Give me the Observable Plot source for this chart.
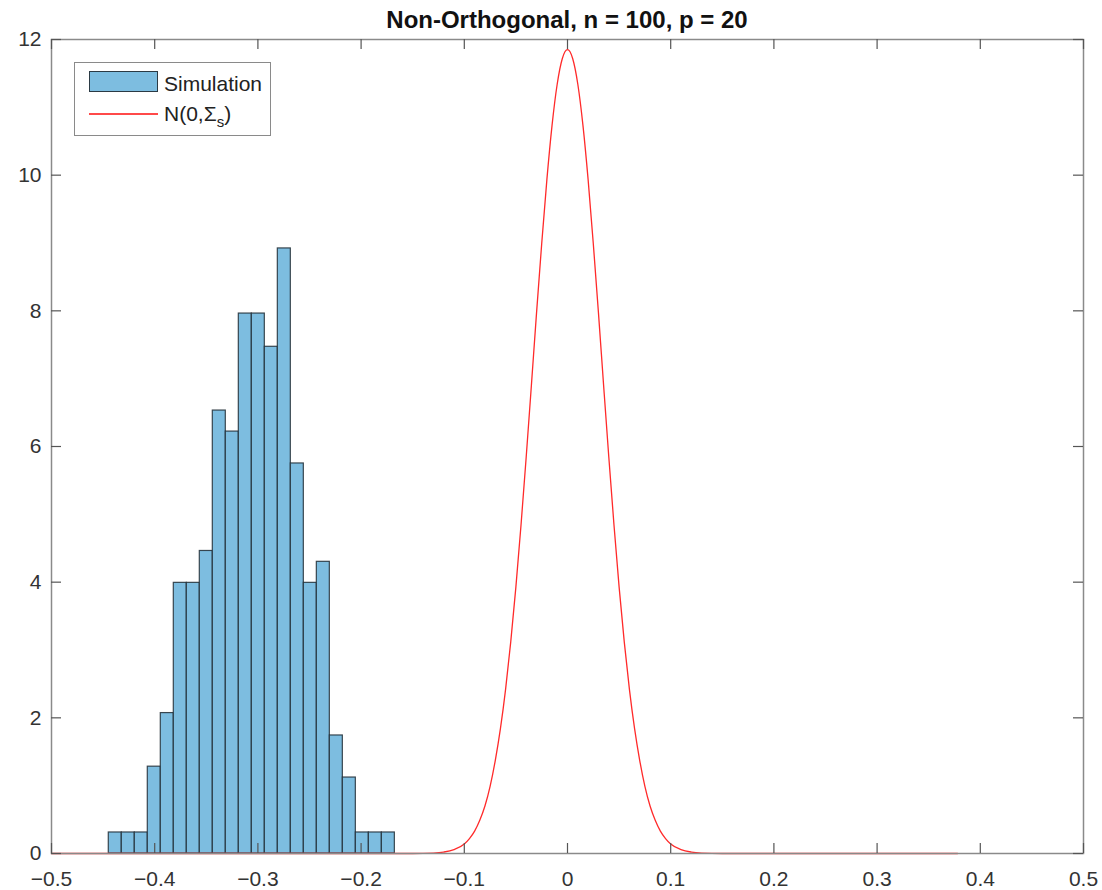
<!DOCTYPE html>
<html>
<head>
<meta charset="utf-8">
<script src="https://cdn.jsdelivr.net/npm/d3@7"></script>
<script src="https://cdn.jsdelivr.net/npm/@observablehq/plot@0.6"></script>
<style>
  body { margin: 0; background: #fff; }
  #wrap { position: relative; width: 1102px; height: 890px; background: #fff; font-family: "Liberation Sans", Arial, Helvetica, sans-serif; }
  #title { position: absolute; left: 51px; width: 1032px; top: 8px; text-align: center; font-weight: bold; font-size: 24px; line-height: 24px; color: #111; }
  #legend { position: absolute; left: 74px; top: 62px; width: 197px; height: 74px; box-sizing: border-box; border: 1.5px solid #8a8a8a; background: #fff; }
  .lg-text { position: absolute; left: 89px; font-size: 21px; line-height: 21px; color: #222; white-space: nowrap; }
  .patch { position: absolute; left: 14px; top: 8px; width: 69px; height: 21px; box-sizing: border-box; background: #7dbde0; border: 1.5px solid #2b3a44; }
  .redline { position: absolute; left: 14px; top: 50px; width: 69px; height: 1.5px; background: #ff4a4a; }
  sub { font-size: 15px; vertical-align: -6px; line-height: 0; }
</style>
</head>
<body>
<div id="wrap">
  <div id="chart"></div>
  <div id="title">Non-Orthogonal, n = 100, p = 20</div>
  <div id="legend">
    <div class="patch"></div>
    <div class="lg-text" style="top:10px;">Simulation</div>
    <div class="redline"></div>
    <div class="lg-text" style="top:40px;">N(0,Σ<sub>s</sub>)</div>
  </div>
</div>
<script>
// Histogram bin edges
const binEdges = [-0.4445, -0.4319, -0.4193, -0.4067, -0.3941, -0.3815, -0.3689, -0.3563,
  -0.3437, -0.3311, -0.3185, -0.3059, -0.2933, -0.2807, -0.2681, -0.2555, -0.2429,
  -0.2303, -0.2177, -0.2051, -0.1925, -0.1799, -0.1673];
// Histogram heights (pdf-normalized)
const density = [0.31, 0.31, 0.31, 1.28, 2.07, 3.99, 3.99, 4.46, 6.53, 6.22, 7.96, 7.96,
  7.47, 8.92, 5.75, 3.99, 4.30, 1.74, 1.12, 0.31, 0.31, 0.31];

// Red curve N(0, Sigma_s)
const curveX = [-0.5, -0.15, -0.13, -0.12, -0.11, -0.1, -0.095, -0.09, -0.085, -0.08, -0.075,
  -0.07, -0.065, -0.06, -0.055, -0.05, -0.045, -0.04, -0.035, -0.03, -0.025, -0.02, -0.015,
  -0.01, -0.005, 0, 0.005, 0.01, 0.015, 0.02, 0.025, 0.03, 0.035, 0.04, 0.045, 0.05, 0.055,
  0.06, 0.065, 0.07, 0.075, 0.08, 0.085, 0.09, 0.095, 0.1, 0.11, 0.12, 0.13, 0.15, 0.378];
const curveY = [0, 0, 0.007, 0.021, 0.057, 0.14, 0.22, 0.33, 0.49, 0.70, 0.99,
  1.37, 1.84, 2.42, 3.12, 3.93, 4.85, 5.85, 6.90, 7.97, 8.99, 9.93, 10.73,
  11.34, 11.72, 11.85, 11.72, 11.34, 10.73, 9.93, 8.99, 7.97, 6.90, 5.85, 4.85, 3.93, 3.12,
  2.42, 1.84, 1.37, 0.99, 0.70, 0.49, 0.33, 0.22, 0.14, 0.057, 0.021, 0.007, 0, 0];

// Axis ticks
const xTicks = [-0.5, -0.4, -0.3, -0.2, -0.1, 0, 0.1, 0.2, 0.3, 0.4, 0.5];
const yTicks = [0, 2, 4, 6, 8, 10, 12];

const bars = density.map((v, i) => ({x1: binEdges[i], x2: binEdges[i + 1], y: v}));
const curve = curveX.map((x, i) => ({x, y: curveY[i]}));

const W = 1102, H = 890, mL = 51, mR = 19, mT = 39, mB = 37;
const frameW = W - mL - mR, frameH = H - mT - mB;
const tickLen = 10;

const fmtX = d => (d === 0 ? "0" : d.toFixed(1).replace("-", "\u2212"));

const plot = Plot.plot({
  width: W,
  height: H,
  marginLeft: mL,
  marginRight: mR,
  marginTop: mT,
  marginBottom: mB,
  style: {fontFamily: '"Liberation Sans", Arial, Helvetica, sans-serif', fontSize: "21px", color: "#333", background: "#fff"},
  x: {domain: [-0.5, 0.5]},
  y: {domain: [0, 12]},
  marks: [
    Plot.rectY(bars, {x1: "x1", x2: "x2", y: "y", fill: "#7dbde0", stroke: "#1e2a33", strokeWidth: 1.2, strokeOpacity: 0.85}),
    Plot.line(curve, {x: "x", y: "y", stroke: "#ff2a2a", strokeWidth: 1.3, curve: "monotone-x"}),
    Plot.frame({stroke: "#8a8a8a", strokeWidth: 1.5}),
    Plot.tickX(xTicks, {x: d => d, insetTop: frameH - tickLen, stroke: "#555", strokeWidth: 1.2}),
    Plot.tickX(xTicks, {x: d => d, insetBottom: frameH - tickLen, stroke: "#555", strokeWidth: 1.2}),
    Plot.tickY(yTicks, {y: d => d, insetRight: frameW - tickLen, stroke: "#555", strokeWidth: 1.2}),
    Plot.tickY(yTicks, {y: d => d, insetLeft: frameW - tickLen, stroke: "#555", strokeWidth: 1.2}),
    Plot.axisX({ticks: xTicks, tickSize: 0, tickPadding: 18, tickFormat: fmtX, label: null, fontSize: 21}),
    Plot.axisY({ticks: yTicks, tickSize: 0, tickPadding: 10, tickFormat: d => String(d), label: null, fontSize: 21})
  ]
});
document.getElementById("chart").appendChild(plot);
</script>
</body>
</html>
